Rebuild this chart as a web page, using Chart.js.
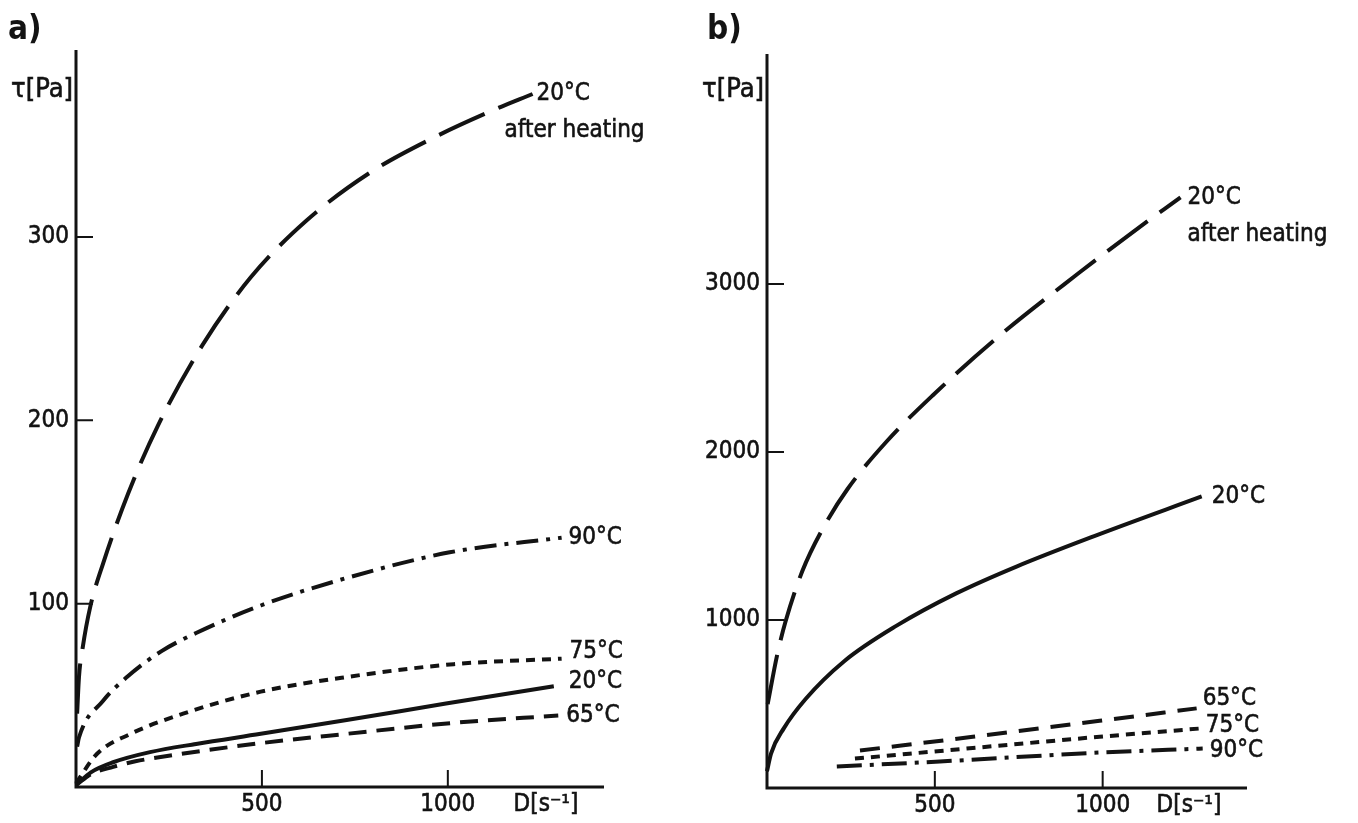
<!DOCTYPE html>
<html>
<head>
<meta charset="utf-8">
<title>Shear stress vs shear rate</title>
<script src="https://cdn.jsdelivr.net/npm/chart.js@4.4.1/dist/chart.umd.min.js"></script>
<style>
  html, body { margin: 0; padding: 0; background: #fff; }
  #wrap { position: relative; width: 1358px; height: 823px; }
  canvas { position: absolute; top: 0; }
  #chartA { left: 0; }
  #chartB { left: 679px; }
</style>
</head>
<body>
<div id="wrap">
  <canvas id="chartA" width="679" height="823"></canvas>
  <canvas id="chartB" width="679" height="823"></canvas>
</div>
<script>
// a) shear stress tau [Pa] against shear rate D [1/s]
const aHeatedD   = [3, 8, 18, 38, 73, 140, 220, 340, 470, 620, 790, 960, 1120, 1228];
const aHeatedTau = [40, 60, 76, 98, 122, 160, 197, 241, 278, 309, 335, 354, 369, 378];
const a90D   = [3, 8, 73, 137, 229, 323, 497, 728, 1005, 1306];
const a90Tau = [22, 27, 47, 60, 74, 84, 99, 114, 128, 136];
const a75D   = [0, 56, 147, 288, 497, 728, 1016, 1306];
const a75Tau = [2, 18, 29, 40, 52, 60, 67, 70];
const a20D   = [0, 40, 100, 199, 323, 497, 728, 995, 1285];
const a20Tau = [1, 8, 13.5, 19, 23.5, 29, 36.5, 45.5, 55];
const a65D   = [0, 40, 100, 160, 280, 500, 728, 1016, 1297];
const a65Tau = [1, 7, 11, 14, 18, 24, 29, 35, 39];
const aXTicks = [500, 1000];
const aYTicks = [100, 200, 300];

// b) same quantities, larger stress range
const bHeatedD   = [2, 30, 55, 105, 165, 240, 355, 495, 685, 925, 1090, 1232];
const bHeatedTau = [500, 790, 990, 1290, 1540, 1780, 2060, 2340, 2680, 3060, 3310, 3517];
const b20D   = [0, 12, 50, 115, 230, 385, 565, 745, 975, 1295];
const b20Tau = [100, 205, 355, 530, 755, 965, 1160, 1320, 1500, 1736];
const b65D   = [277, 613, 991, 1280];
const b65Tau = [223, 305, 400, 474];
const b75D   = [262, 613, 991, 1289];
const b75Tau = [175, 238, 305, 354];
const b90D   = [208, 515, 991, 1298];
const b90Tau = [128, 158, 211, 235];
const bXTicks = [500, 1000];
const bYTicks = [1000, 2000, 3000];

const INK = '#131313';
const FONT = '"DejaVu Sans Condensed", "DejaVu Sans", sans-serif';

const LONG_DASH = [50, 15];
const MID_DASH = [18, 10];
const SHORT_DASH = [9, 7];
const DASH_DOT = [22, 8, 4, 8];

function pts(d, t) {
  return d.map((x, i) => ({ x: x, y: t[i] }));
}

function series(d, t, dash, label, dx, dy) {
  return {
    data: pts(d, t),
    borderColor: INK,
    borderWidth: 4,
    borderDash: dash,
    borderCapStyle: 'butt',
    pointRadius: 0,
    fill: false,
    clip: false,
    cubicInterpolationMode: 'monotone',
    curveLabel: label,
    labelDx: dx,
    labelDy: dy
  };
}

// filled text with a thin outline so it reads like the printed lettering
function inkText(ctx, s, x, y) {
  ctx.fillText(s, x, y);
  ctx.strokeText(s, x, y);
}

// axes, inward ticks, numbers and curve names, all placed through the chart scales
const framePlugin = {
  id: 'frame',
  afterDatasetsDraw(chart, args, opts) {
    const ctx = chart.ctx;
    const area = chart.chartArea;
    const x = chart.scales.x;
    const y = chart.scales.y;
    ctx.save();
    ctx.strokeStyle = INK;
    ctx.fillStyle = INK;

    ctx.lineWidth = 3;
    ctx.beginPath();
    ctx.moveTo(area.left, area.top);
    ctx.lineTo(area.left, area.bottom);
    ctx.lineTo(area.right, area.bottom);
    ctx.stroke();

    ctx.lineWidth = 2;
    ctx.beginPath();
    opts.yTicks.forEach(v => {
      const py = y.getPixelForValue(v);
      ctx.moveTo(area.left, py);
      ctx.lineTo(area.left + 17, py);
    });
    opts.xTicks.forEach(v => {
      const px = x.getPixelForValue(v);
      ctx.moveTo(px, area.bottom);
      ctx.lineTo(px, area.bottom - 17);
    });
    ctx.stroke();

    ctx.lineWidth = 0.6;
    ctx.font = '24px ' + FONT;
    ctx.textBaseline = 'middle';
    ctx.textAlign = 'right';
    opts.yTicks.forEach(v => inkText(ctx, String(v), area.left - 7, y.getPixelForValue(v)));
    ctx.textAlign = 'center';
    opts.xTicks.forEach(v => inkText(ctx, String(v), x.getPixelForValue(v), area.bottom + 18));
    inkText(ctx, 'D[s\u207B\u00B9]', area.right - 58, area.bottom + 18);

    ctx.font = '27px ' + FONT;
    ctx.textAlign = 'right';
    inkText(ctx, '\u03C4[Pa]', area.left - 3, 90);

    ctx.font = 'bold 33px ' + FONT;
    ctx.textAlign = 'left';
    ctx.fillText(opts.letter, opts.letterX, 30);

    ctx.font = '24px ' + FONT;
    chart.data.datasets.forEach(ds => {
      const last = ds.data[ds.data.length - 1];
      const px = x.getPixelForValue(last.x) + ds.labelDx;
      const py = y.getPixelForValue(last.y) + ds.labelDy;
      inkText(ctx, ds.curveLabel, px, py);
      if (ds.subLabel) {
        inkText(ctx, ds.subLabel, px + ds.subDx, py + 37);
      }
    });
    ctx.restore();
  }
};

function makeChart(id, datasets, xMax, yMax, pad, frame) {
  return new Chart(document.getElementById(id), {
    type: 'line',
    data: { datasets: datasets },
    options: {
      responsive: false,
      animation: false,
      layout: { padding: pad },
      scales: {
        x: { type: 'linear', min: 0, max: xMax, display: false },
        y: { type: 'linear', min: 0, max: yMax, display: false }
      },
      plugins: {
        legend: { display: false },
        tooltip: { enabled: false },
        frame: frame
      }
    },
    plugins: [framePlugin]
  });
}

const aHeated = series(aHeatedD, aHeatedTau, LONG_DASH, '20\u00B0C', 4, 0);
aHeated.subLabel = 'after heating';
aHeated.subDx = -32;

makeChart('chartA', [
  aHeated,
  series(a90D, a90Tau, DASH_DOT, '90\u00B0C', 7, 0),
  series(a75D, a75Tau, SHORT_DASH, '75\u00B0C', 8, -7),
  series(a20D, a20Tau, [], '20\u00B0C', 15, -4),
  series(a65D, a65Tau, MID_DASH, '65\u00B0C', 8, 0)
], 1420, 402, { left: 76, right: 75, top: 50, bottom: 36 },
  { letter: 'a)', letterX: 8, xTicks: aXTicks, yTicks: aYTicks });

const bHeated = series(bHeatedD, bHeatedTau, LONG_DASH, '20\u00B0C', 7, 0);
bHeated.subLabel = 'after heating';
bHeated.subDx = 0;

makeChart('chartB', [
  bHeated,
  series(b20D, b20Tau, [], '20\u00B0C', 10, 0),
  series(b65D, b65Tau, [20, 12], '65\u00B0C', 6, -10),
  series(b75D, b75Tau, SHORT_DASH, '75\u00B0C', 6, -3),
  series(b90D, b90Tau, [25, 8, 4, 8], '90\u00B0C', 7, 2)
], 1430, 4370, { left: 88, right: 111, top: 54, bottom: 35 },
  { letter: 'b)', letterX: 28, xTicks: bXTicks, yTicks: bYTicks });
</script>
</body>
</html>
